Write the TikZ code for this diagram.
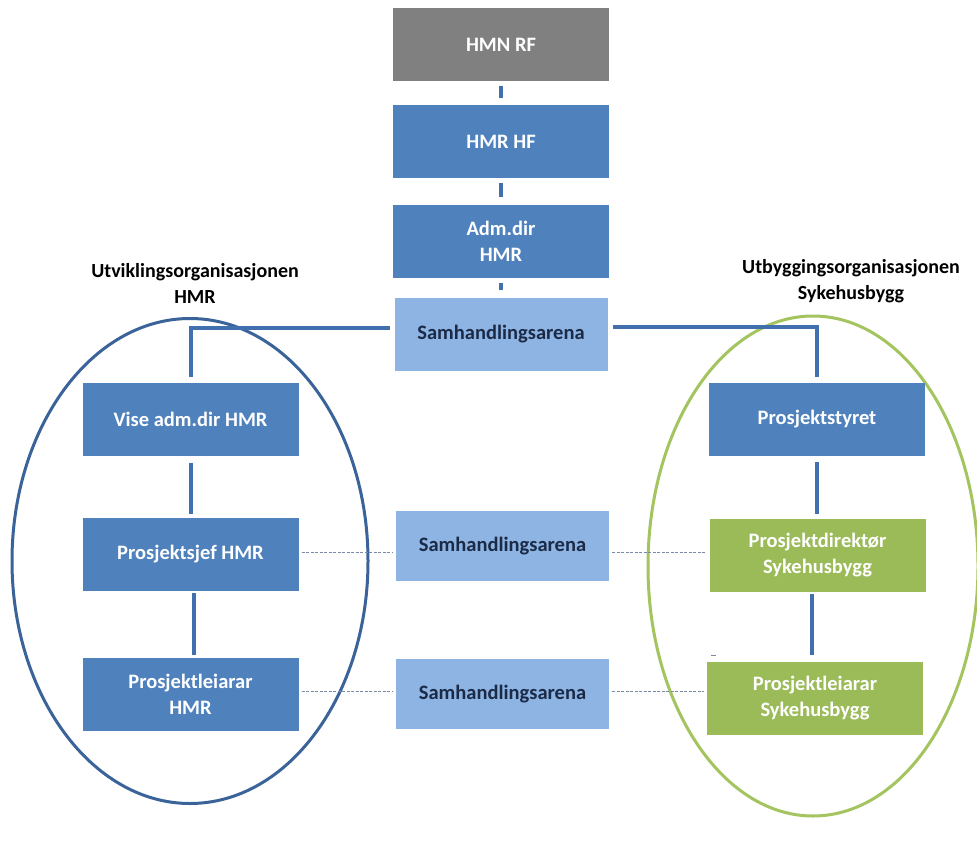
\documentclass[tikz,border=0pt]{standalone}
\usepackage{fontspec}
\setmainfont{Carlito}
\usetikzlibrary{shapes.geometric,calc}
\definecolor{boxblue}{HTML}{4F81BD}
\definecolor{boxgray}{HTML}{808080}
\definecolor{boxlight}{HTML}{8DB4E2}
\definecolor{boxgreen}{HTML}{9BBB59}
\definecolor{navytext}{HTML}{1B2A47}
\definecolor{connblue}{HTML}{4270AE}
\definecolor{ellblue}{HTML}{3A6399}
\definecolor{ellgreen}{HTML}{A3C45E}
\definecolor{dashgray}{HTML}{7A8AA6}
\tikzset{
  orgbox/.style={inner sep=0pt, outer sep=0pt, minimum width=216pt, minimum height=73pt,
    font=\fontsize{20.5}{26}\selectfont\bfseries, align=center, text=white},
  bluebox/.style={orgbox, fill=boxblue},
  graybox/.style={orgbox, fill=boxgray},
  greenbox/.style={orgbox, fill=boxgreen},
  lightbox/.style={orgbox, fill=boxlight, text=navytext, minimum width=213pt},
  conn/.style={draw=connblue, line width=4pt},
  dashline/.style={draw=dashgray, line width=0.9pt, dash pattern=on 3pt off 1.5pt},
  orgring/.style={ellipse, draw, line width=3pt, inner sep=0pt},
  grouplabel/.style={font=\fontsize{20}{26}\selectfont\bfseries, align=center, text=black}
}
\begin{document}
\begin{tikzpicture}[x=1pt,y=-1pt]
\useasboundingbox[fill=white] (0,0) rectangle (977,843);

% ellipses
\node[orgring, draw=ellblue, minimum width=356pt, minimum height=485pt] (ringL) at (190,561) {};
\node[orgring, draw=ellgreen, minimum width=330pt, minimum height=500pt] (ringR) at (813,566) {};

% group labels
\node[grouplabel] (labL) at (195,283) {Utviklingsorganisasjonen\\HMR};
\node[grouplabel] (labR) at (851,281) {Utbyggingsorganisasjonen\\Sykehusbygg};

% centre column
\node[graybox] (hmnrf) at (501,44.5) {HMN RF};
\node[bluebox] (hmrhf) at (501,141.5) {HMR HF};
\node[bluebox] (admdir) at (501,241.5) {Adm.dir\\HMR};
\node[lightbox] (samtop) at (501,334.5) {Samhandlingsarena};
\node[lightbox, minimum height=70pt] (sammid) at (502.5,546) {Samhandlingsarena};
\node[lightbox, minimum height=70pt] (sambot) at (502.5,694) {Samhandlingsarena};

% left column
\node[bluebox] (vise) at (190.5,419.5) {Vise adm.dir HMR};
\node[bluebox] (sjef) at (190.5,554.5) {Prosjektsjef HMR};
\node[bluebox] (leiarL) at (190.5,694.5) {Prosjektleiarar\\HMR};

% right column
\node[bluebox] (styret) at (817,419.5) {Prosjektstyret};
\node[greenbox] (direktor) at (817.5,555) {Prosjektdirektør\\Sykehusbygg};
\node[greenbox] (leiarR) at (815,698) {Prosjektleiarar\\Sykehusbygg};

% centre stubs
\draw[conn, shorten <=5pt, shorten >=7pt] (hmnrf) -- (hmrhf);
\draw[conn, shorten <=5pt, shorten >=8pt] (hmrhf) -- (admdir);
\draw[conn, shorten <=5pt, shorten >=8pt] (admdir) -- (samtop);

% top branches
\draw[conn, shorten <=5pt, shorten >=6pt] ([yshift=6.5pt]samtop.west) -| (vise.north);
\draw[conn, shorten <=5pt, shorten >=6pt] ([yshift=7.5pt]samtop.east) -| (styret.north);

% column links
\draw[conn, shorten <=7pt, shorten >=4pt] (vise) -- (sjef);
\draw[conn, shorten <=2pt, shorten >=3pt] ([xshift=3pt]sjef.south) -- ([xshift=3pt]sjef.south |- leiarL.north);
\draw[conn, shorten <=6pt, shorten >=5pt] (styret.south) -- (styret.south |- direktor.north);
\draw[conn, shorten <=2pt, shorten >=7pt] ([xshift=-6pt]direktor.south) -- ([xshift=-6pt]direktor.south |- leiarR.north);

% dashed links
\draw[dashline, shorten <=3pt, shorten >=3pt] ([yshift=2.5pt]sjef.east) -- ([yshift=2.5pt]sjef.east -| sammid.west);
\draw[dashline, shorten <=3pt, shorten >=3pt] ([yshift=2.5pt]direktor.west -| sammid.east) -- ([yshift=2.5pt]direktor.west);
\draw[dashline, shorten <=3pt, shorten >=3pt] ([yshift=3.5pt]leiarL.east) -- ([yshift=3.5pt]leiarL.east -| sambot.west);
\draw[dashline, shorten <=3pt, shorten >=3pt] ([yshift=3pt]sambot.east) -- ([yshift=3pt]sambot.east -| leiarR.west);

% small stray mark
\draw[dashgray, line width=1pt] (711,655) -- (716,655);
\end{tikzpicture}
\end{document}
